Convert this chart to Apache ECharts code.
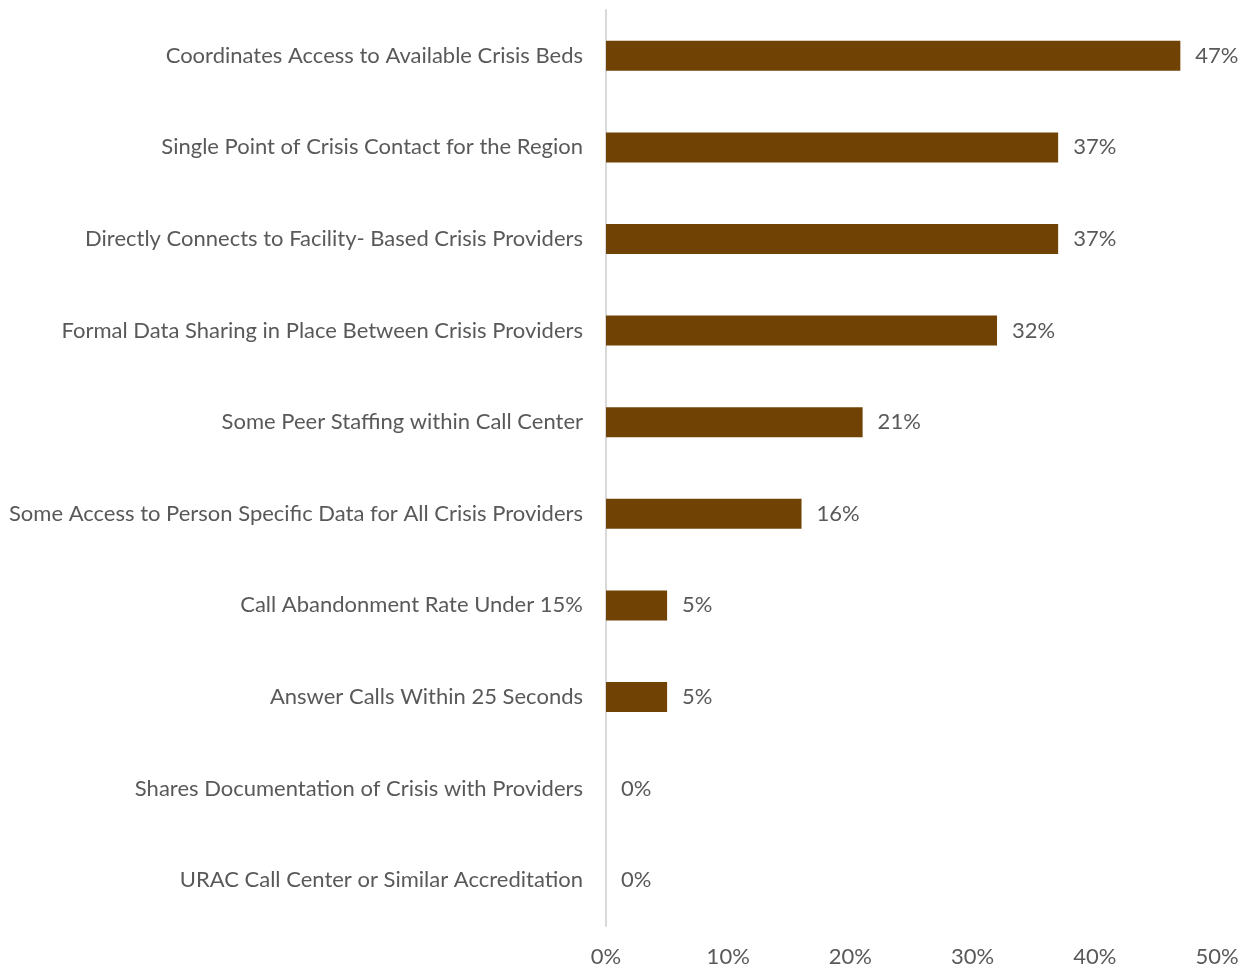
<!DOCTYPE html>
<html>
<head>
<meta charset="utf-8">
<script src="https://cdn.jsdelivr.net/npm/echarts@6/dist/echarts.min.js"></script>
<style>
  html, body { margin: 0; padding: 0; background: #ffffff; }
  #chart { width: 1247px; height: 968px; }
</style>
</head>
<body>
<div id="chart"></div>
<script>
// Crisis call center capabilities, listed top to bottom
const categories = [
  'Coordinates Access to Available Crisis Beds',
  'Single Point of Crisis Contact for the Region',
  'Directly Connects to Facility- Based Crisis Providers',
  'Formal Data Sharing in Place Between Crisis Providers',
  'Some Peer Staffing within Call Center',
  'Some Access to Person Specific Data for All Crisis Providers',
  'Call Abandonment Rate Under 15%',
  'Answer Calls Within 25 Seconds',
  'Shares Documentation of Crisis with Providers',
  'URAC Call Center or Similar Accreditation'
];
// Share of regions (%)
const shares = [47, 37, 37, 32, 21, 16, 5, 5, 0, 0];
const xTicks = [0, 10, 20, 30, 40, 50];

const FONT = 'Lato, "Open Sans", sans-serif';
const TEXT = '#595959';
const SIZE = 22;

const chart = echarts.init(document.getElementById('chart'), null, { renderer: 'canvas' });
chart.setOption({
  animation: false,
  backgroundColor: '#ffffff',
  grid: { left: 606, right: 30, top: 10, bottom: 41, containLabel: false },
  xAxis: {
    type: 'value',
    min: xTicks[0],
    max: xTicks[xTicks.length - 1],
    interval: xTicks[1] - xTicks[0],
    axisLine: { show: false },
    axisTick: { show: false },
    splitLine: { show: false },
    axisLabel: {
      formatter: v => v + '%',
      color: TEXT,
      fontFamily: FONT,
      fontSize: SIZE,
      margin: 20
    }
  },
  yAxis: {
    type: 'category',
    data: categories,
    inverse: true,
    axisLine: { show: true, lineStyle: { color: '#d9d9d9', width: 2 } },
    axisTick: { show: false },
    axisLabel: {
      color: TEXT,
      fontFamily: FONT,
      fontSize: SIZE,
      margin: 23,
      padding: [2, 0, 0, 0]
    }
  },
  series: [{
    type: 'bar',
    data: shares,
    barWidth: 30,
    itemStyle: { color: '#704304' },
    label: {
      show: true,
      position: 'right',
      distance: 15,
      padding: [2, 0, 0, 0],
      formatter: p => p.value + '%',
      color: TEXT,
      fontFamily: FONT,
      fontSize: SIZE
    }
  }]
});
</script>
</body>
</html>
